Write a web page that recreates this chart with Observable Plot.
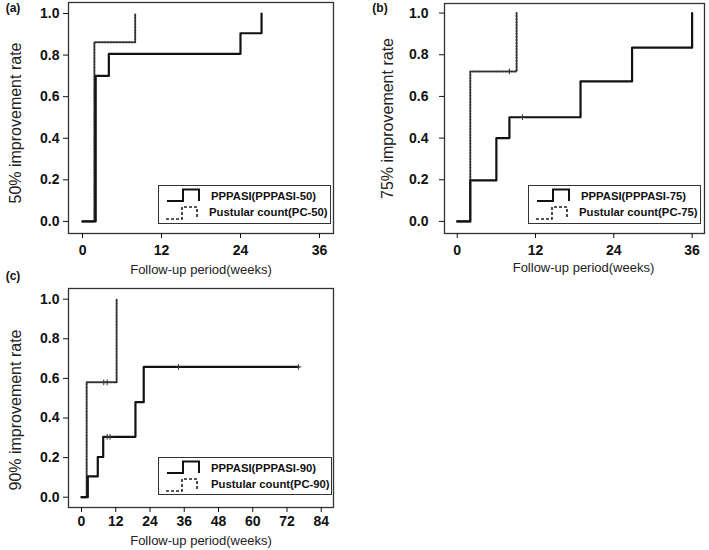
<!DOCTYPE html>
<html><head><meta charset="utf-8">
<script src="https://cdn.jsdelivr.net/npm/d3@7"></script>
<script src="https://cdn.jsdelivr.net/npm/@observablehq/plot@0.6"></script>
<style>
body{margin:0;background:#fff;font-family:"Liberation Sans",Arial,sans-serif;color:#111}
#wrap{position:relative;width:709px;height:550px;overflow:hidden;background:#fff}
.panel{position:absolute}
.tag{position:absolute;font:bold 12px "Liberation Sans",Arial,sans-serif;color:#111;transform:translate(-50%,-50%)}
.legend{position:absolute;box-sizing:border-box;border:1.3px solid #333;background:#fff}
.legend svg{display:block;overflow:visible}
</style></head>
<body><div id="wrap"></div>
<script>
// ---- data ----
const yTicks = [0, 0.2, 0.4, 0.6, 0.8, 1.0];
const xTicksAB = [0, 12, 24, 36];
const xTicksC = [0, 12, 24, 36, 48, 60, 72, 84];

// (a) 50% improvement
const aPppWeeks = [0, 2, 4, 24, 27.2];
const aPppRate  = [0, 0.70, 0.806, 0.905, 1.0];
const aPcWeeks  = [0, 1.8, 8.0];
const aPcRate   = [0, 0.862, 1.0];
const aPppCensorWeeks = [];
const aPppCensorRate  = [];
const aPcCensorWeeks  = [];
const aPcCensorRate   = [];

// (b) 75% improvement
const bPppWeeks = [0, 2, 6, 8, 18.9, 26.8, 36];
const bPppRate  = [0, 0.197, 0.40, 0.50, 0.672, 0.834, 1.0];
const bPcWeeks  = [0, 2, 9.1];
const bPcRate   = [0, 0.72, 1.0];
const bPppCensorWeeks = [10];
const bPppCensorRate  = [0.50];
const bPcCensorWeeks  = [8];
const bPcCensorRate   = [0.72];

// (c) 90% improvement
const cPppWeeks = [0, 2.2, 5.7, 7.6, 18.9, 21.8, 76];
const cPppRate  = [0, 0.105, 0.203, 0.305, 0.48, 0.658, 0.658];
const cPcWeeks  = [0, 1.8, 12.3];
const cPcRate   = [0, 0.58, 1.0];
const cPppCensorWeeks = [9, 10, 34, 76];
const cPppCensorRate  = [0.305, 0.305, 0.658, 0.658];
const cPcCensorWeeks  = [7.8, 9];
const cPcCensorRate   = [0.58, 0.58];

const xLabel = "Follow-up period(weeks)";
const yLabels = ["50% improvement rate", "75% improvement rate", "90% improvement rate"];
const legendA = ["PPPASI(PPPASI-50)", "Pustular count(PC-50)"];
const legendB = ["PPPASI(PPPASI-75)", "Pustular count(PC-75)"];
const legendC = ["PPPASI(PPPASI-90)", "Pustular count(PC-90)"];
const tags = ["(a)", "(b)", "(c)"];

const zip = (w, r) => w.map((d, i) => ({w: d, r: r[i]}));

function panel(c) {
  const ppp = zip(c.pW, c.pR), pc = zip(c.cW, c.cR);
  const cens = zip(c.pcW, c.pcR).concat(zip(c.ccW, c.ccR));
  return Plot.plot({
    width: c.width, height: c.height,
    marginLeft: c.ml, marginRight: c.mr, marginTop: c.mt, marginBottom: c.mb,
    x: {domain: c.xDomain, label: null},
    y: {domain: c.yDomain, label: null},
    style: {background: "transparent", fontFamily: "'Liberation Sans', Arial, sans-serif",
            fontSize: "14px", fontWeight: "bold", color: "#111", overflow: "visible"},
    marks: [
      Plot.frame({stroke: "#333", strokeWidth: 1.3}),
      Plot.axisX({ticks: c.xTicks, tickSize: 5, tickPadding: c.xPad, tickFormat: d => String(d), label: null}),
      Plot.axisY({ticks: yTicks, tickSize: 5, tickPadding: c.yPad, tickFormat: d3.format(".1f"), label: null}),
      Plot.line(pc, {x: "w", y: "r", curve: "step-after", stroke: "#333", strokeWidth: 2, strokeDasharray: "1.5,1.5"}),
      Plot.line(ppp, {x: "w", y: "r", curve: "step-after", stroke: "#111", strokeWidth: 2.2}),
      Plot.dot(cens, {x: "w", y: "r", symbol: "plus", r: 2, stroke: "#333", strokeWidth: 1}),
      Plot.text([xLabel], {text: d => d, frameAnchor: "bottom", dx: c.xlDx, dy: c.xlDy, textAnchor: "middle",
        lineAnchor: "middle", fontSize: 13, fontWeight: "normal", fill: "#222"}),
      Plot.text([c.yLabel], {text: d => d, frameAnchor: "left", rotate: -90, dx: c.ylDx, dy: c.ylDy,
        textAnchor: "middle", lineAnchor: "middle", fontSize: 16, fontWeight: "normal", fill: "#222"})
    ]
  });
}

function legend(labels, left, top, w, h, t2x) {
  const div = document.createElement("div");
  div.className = "legend";
  Object.assign(div.style, {left: left + "px", top: top + "px", width: w + "px", height: h + "px"});
  div.innerHTML = `<svg width="${w-2}" height="${h-2}">
    <path d="M8,15 H24 V3.5 H40 V15" fill="none" stroke="#111" stroke-width="2"/>
    <path d="M7,33 H23 V21 H38 V33" fill="none" stroke="#222" stroke-width="1.6" stroke-dasharray="3,2"/>
    <text x="52" y="11.5" dominant-baseline="middle" font-family="Liberation Sans, Arial, sans-serif" font-weight="bold" font-size="11.3" fill="#111">${labels[0]}</text>
    <text x="${t2x}" y="27.5" dominant-baseline="middle" font-family="Liberation Sans, Arial, sans-serif" font-weight="bold" font-size="11.3" fill="#111">${labels[1]}</text>
  </svg>`;
  return div;
}

const wrap = document.getElementById("wrap");
function place(el, left, top) { el.classList.add("panel"); el.style.left = left + "px"; el.style.top = top + "px"; wrap.appendChild(el); }

place(panel({width: 355, height: 280, ml: 68, mr: 22, mt: 2, mb: 47,
  xDomain: [-2.13, 38.13], yDomain: [-0.058, 1.053], xTicks: xTicksAB, xPad: 7, yPad: 4,
  pW: aPppWeeks, pR: aPppRate, cW: aPcWeeks, cR: aPcRate,
  pcW: aPppCensorWeeks, pcR: aPppCensorRate, ccW: aPcCensorWeeks, ccR: aPcCensorRate,
  xlDx: 0, xlDy: 36, yLabel: yLabels[0], ylDx: -53, ylDy: 5}), 0, 0);

place(panel({width: 354, height: 280, ml: 89, mr: 5, mt: 3, mb: 47,
  xDomain: [-1.95, 37.9], yDomain: [-0.058, 1.046], xTicks: xTicksAB, xPad: 7, yPad: 11,
  pW: bPppWeeks, pR: bPppRate, cW: bPcWeeks, cR: bPcRate,
  pcW: bPppCensorWeeks, pcR: bPppCensorRate, ccW: bPcCensorWeeks, ccR: bPcCensorRate,
  xlDx: 9, xlDy: 34, yLabel: yLabels[1], ylDx: -57, ylDy: 0}), 355, 0);

place(panel({width: 355, height: 280, ml: 68, mr: 22, mt: 18, mb: 43,
  xDomain: [-4.56, 88.3], yDomain: [-0.052, 1.054], xTicks: xTicksC, xPad: 4, yPad: 4,
  pW: cPppWeeks, pR: cPppRate, cW: cPcWeeks, cR: cPcRate,
  pcW: cPppCensorWeeks, pcR: cPppCensorRate, ccW: cPcCensorWeeks, ccR: cPcCensorRate,
  xlDx: 0, xlDy: 33, yLabel: yLabels[2], ylDx: -53, ylDy: 12}), 0, 270);

wrap.appendChild(legend(legendA, 158, 185, 173, 39, 50));
wrap.appendChild(legend(legendB, 528, 185, 173, 39, 50));
wrap.appendChild(legend(legendC, 158, 457, 174, 38, 52));

[[tags[0], 13, 8], [tags[1], 380, 8], [tags[2], 13, 276]].forEach(([t, x, y]) => {
  const s = document.createElement("div");
  s.className = "tag"; s.textContent = t;
  s.style.left = x + "px"; s.style.top = y + "px";
  wrap.appendChild(s);
});
</script>
</body></html>
